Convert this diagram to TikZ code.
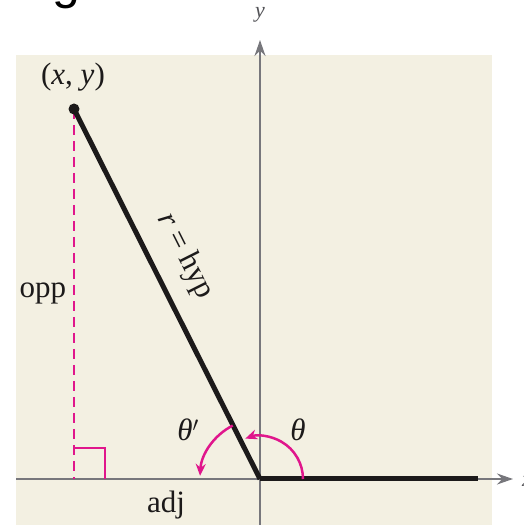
\documentclass[tikz,border=0pt]{standalone}
\usepackage{fontspec}
\setmainfont{Liberation Serif}
\newfontfamily\gsans{Liberation Sans}
\usetikzlibrary{arrows.meta}
\definecolor{bg}{HTML}{F3F0E2}
\definecolor{mag}{HTML}{E0168C}
\definecolor{axisgray}{HTML}{77777C}
\definecolor{ink}{HTML}{1C1A1A}
\begin{document}
\begin{tikzpicture}[x=1pt,y=1pt,
  lbl/.style={font=\fontsize{31}{37}\selectfont, inner sep=0pt, text=ink},
  axlbl/.style={font=\fontsize{22}{26}\selectfont\itshape, inner sep=0pt, text=axisgray!70!black},
  axisline/.style={draw=axisgray, line width=2pt},
  axtip/.style={-{Stealth[length=16pt,width=11pt]}},
  termside/.style={draw=ink, line width=5pt},
  magline/.style={draw=mag, line width=2.5pt},
  magtip/.style={-{Stealth[length=12pt,width=10pt]}}]
\useasboundingbox (0,0) rectangle (523,525);
\fill[bg] (16,0) rectangle (492,470);
% fragment of a title cut off above
\node[font=\gsans\fontsize{50}{60}\selectfont, anchor=base, inner sep=0pt] (gfrag) at (66,526) {g};
% coordinates
\coordinate (O) at (260,46);
\coordinate (P) at (74,416);
\coordinate (xl) at (16,46);
\coordinate (xr) at (513,46);
\coordinate (yb) at (260,0);
\coordinate (yt) at (260,485);
\coordinate (xend) at (478,46);
\coordinate (foot) at (74,46);
% axes
\draw[axisline, axtip] (xl) -- (xr);
\draw[axisline, axtip] (yb) -- (yt);
\node[axlbl] (ylab) at (260,510) {y};
\node[axlbl] (xlab) at (527,44) {x};
% opposite side dashed and right angle mark
\draw[magline, dash pattern=on 10pt off 6pt] (P) -- (foot);
\draw[magline] (74,77) -- (105,77) -- (105,46);
% terminal side and initial side
\draw[termside] (O) -- (xend);
\draw[termside] (P) -- (O);
\fill[ink] (P) circle (5.5);
% angle arcs
\draw[magline, magtip] ([shift={(0:43)}]O) arc (0:110:43);
\draw[magline, magtip] ([shift={(117:60)}]O) arc (117:177:60);
% labels
\node[lbl] (pt) at (73,448) {(\textit{x}, \textit{y})};
\node[lbl] (opp) at (43,232) {opp};
\node[lbl] (adj) at (166,20) {adj};
\node[lbl] (th) at (298,95) {\textit{θ}};
\node[lbl] (thp) at (188,95) {\textit{θ}$'$};
\node[lbl, rotate=-63.3] (hyp) at (185,269) {\textit{r} = hyp};
\end{tikzpicture}
\end{document}
